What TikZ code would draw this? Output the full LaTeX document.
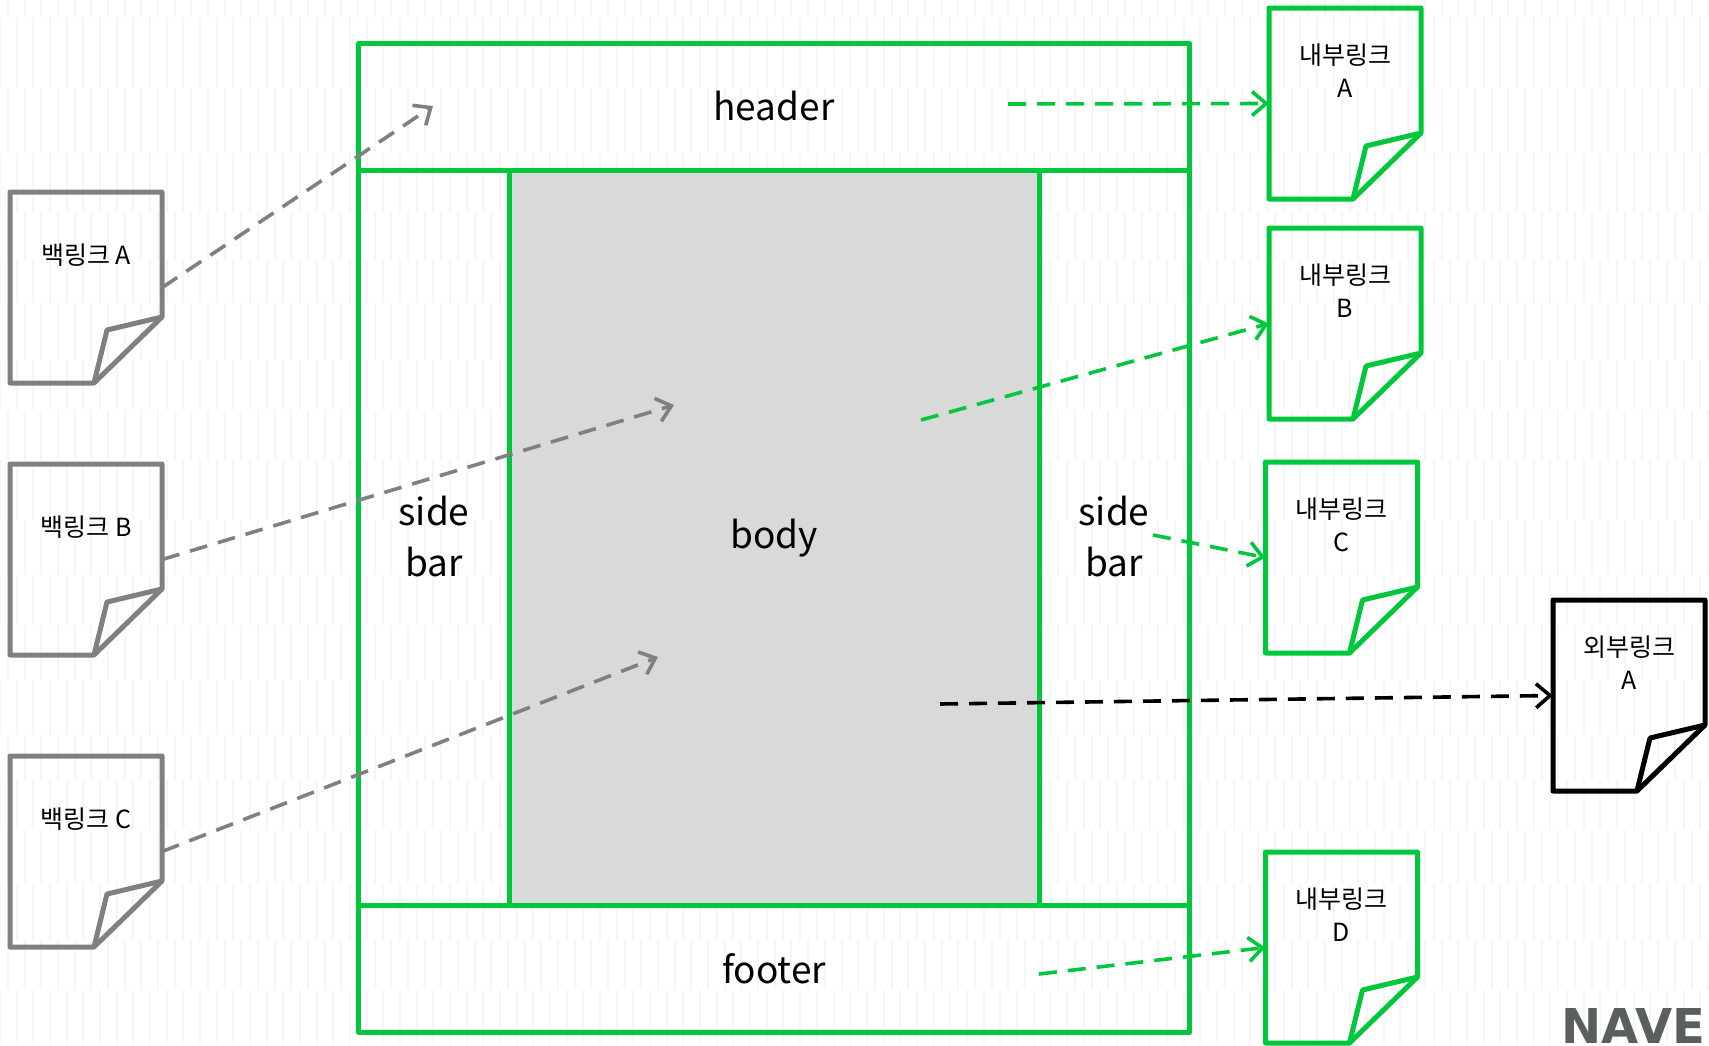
\documentclass[tikz,border=0pt]{standalone}
\usepackage{fontspec}
\usetikzlibrary{arrows.meta}
\setmainfont{Noto Sans CJK KR}
\newfontfamily\logofont{DejaVu Sans}
\definecolor{navergreen}{HTML}{00C73C}
\definecolor{linkgray}{HTML}{808080}
\definecolor{logogray}{HTML}{5A5F5E}
\definecolor{stripegray}{HTML}{F6F6F6}
\tikzset{
  pagetext/.style={font=\fontsize{37}{51}\selectfont,align=center,text=black},
  doctext/.style={font=\fontsize{25}{33}\selectfont,align=center,text=black},
  frameline/.style={draw=navergreen,line width=5pt,line join=round},
  link/.style={dashed,dash pattern=on 18pt off 11pt,line width=3.6pt,-{Straight Barb[length=14pt,width=24pt,line width=3.6pt]}}
}
\begin{document}
\begin{tikzpicture}[x=1pt,y=-1pt]
  \useasboundingbox (0,0) rectangle (1709,1045);

  % faint stripes behind everything
  \foreach \row/\top/\bottom/\off in {0/0/17/8, 1/17/88/0, 2/88/153/8, 3/153/212/0, 4/212/260/8, 5/260/303/0, 6/303/360/8, 7/360/410/0, 8/410/460/8, 9/460/520/0, 10/520/575/8, 11/575/625/0, 12/625/680/8, 13/680/735/0, 14/735/780/8, 15/780/830/0, 16/830/883/8, 17/883/940/0, 18/940/990/8, 19/990/1045/0}
    \foreach \col in {0,...,102}
      \draw [stripegray,line width=2pt] ({\off+\col*16.67},\top) -- ({\off+\col*16.67},\bottom);

  \fill [fill=black!15] (509,170) rectangle (1039,905);
  \draw [frameline] (358.5,43.5) rectangle (1189.5,1032);
  \draw [frameline] (358.5,170) -- (1189.5,170);
  \draw [frameline] (358.5,905) -- (1189.5,905);
  \draw [frameline] (509,170) -- (509,905);
  \draw [frameline] (1039,170) -- (1039,905);

  \node [pagetext] (header) at (774,106) {header};
  \node [pagetext] (sideleft) at (434,537) {side\\bar};
  \node [pagetext] (body) at (774,538) {body};
  \node [pagetext] (sideright) at (1114,537) {side\\bar};
  \node [pagetext] (footer) at (774,969) {footer};

  \foreach \name/\x/\y/\colour/\txt in {
    backA/10/192/linkgray/{백링크 A},
    backB/10/464/linkgray/{백링크 B},
    backC/10/756/linkgray/{백링크 C},
    innerA/1269/8/navergreen/{내부링크\\A},
    innerB/1269/228/navergreen/{내부링크\\B},
    innerC/1265.5/462/navergreen/{내부링크\\C},
    innerD/1265.5/852/navergreen/{내부링크\\D},
    outerA/1553/600/black/{외부링크\\A}}
  {
    \begin{scope}[shift={(\x,\y)}]
      \draw [\colour,line width=5pt,line join=round] (0,0) -- (152,0) -- (152,125) -- (84,191) -- (0,191) -- cycle;
      \draw [\colour,line width=5pt,line join=round] (152,125) -- (97,138) -- (84,191);
      \node [minimum width=152pt,minimum height=191pt,inner sep=0pt] (\name) at (76,95.5) {};
      \node [doctext] (\name text) at (76,63) {\txt};
    \end{scope}
  }

  \coordinate (backAend) at (433,106);
  \coordinate (backBend) at (674,405);
  \coordinate (backCend) at (658,657);
  \coordinate (headerlink) at (1008,104);
  \coordinate (bodylink) at (921,420);
  \coordinate (sidelink) at (1153,535);
  \coordinate (footerlink) at (1039,974);
  \coordinate (outerlink) at (940,704);

  \foreach \from/\to in {backA.east/backAend, backB.east/backBend, backC.east/backCend}
    \draw [link,linkgray] (\from) -- (\to);
  \foreach \from/\to in {headerlink/innerA.west, bodylink/innerB.west, sidelink/innerC.west, footerlink/innerD.west}
    \draw [link,navergreen] (\from) -- (\to);
  \draw [link,black] (outerlink) -- (outerA.west);

  \node [anchor=north west,inner sep=0pt,text=logogray,font=\logofont\fontsize{48}{48}\selectfont\bfseries] (naver) at (1561,1008) {NAVER};
\end{tikzpicture}
\end{document}
